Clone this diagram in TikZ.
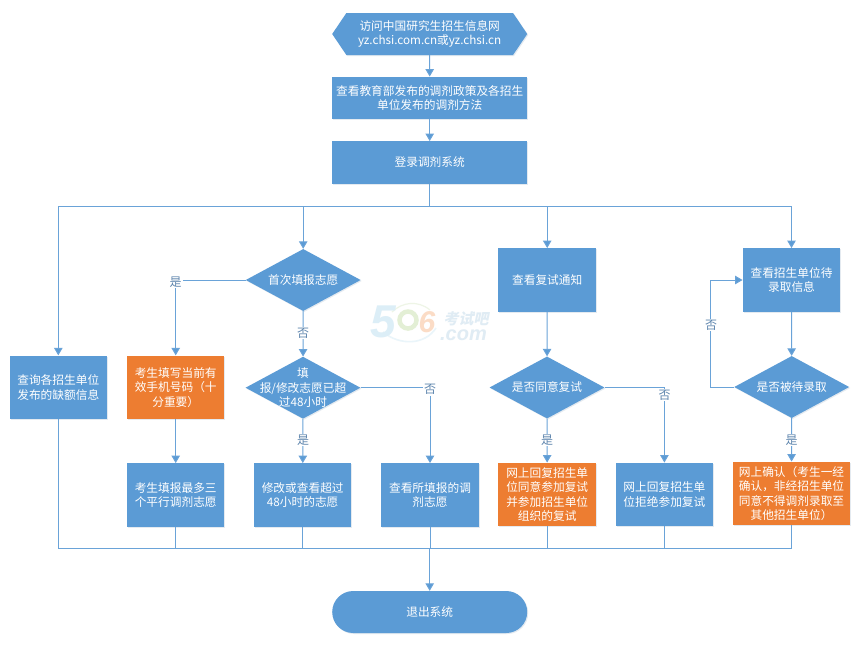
\documentclass[tikz,border=0pt]{standalone}
\usepackage{fontspec}
\setmainfont{Noto Sans CJK SC}
\newfontfamily\wmcjk[FakeSlant=0.2]{Noto Sans CJK SC}
\newfontfamily\wmlat{Liberation Sans}
\usetikzlibrary{arrows.meta,shapes.geometric,shapes.misc,shapes.symbols,shadows}
\definecolor{bl}{HTML}{5B9BD5}
\definecolor{og}{HTML}{ED7D31}
\definecolor{lnc}{HTML}{6AA3D8}
\definecolor{labc}{HTML}{5F86AE}
\definecolor{wmblue}{HTML}{DCEEF7}
\definecolor{wmgreen}{HTML}{E3EFD5}
\definecolor{wmorange}{HTML}{FBDCC6}
\definecolor{wmtext}{HTML}{E0ECF4}
\tikzset{
  softshadow/.style={drop shadow={shadow xshift=1pt,shadow yshift=-1pt,opacity=.14,fill=bl!70!black}},
  txt/.style={text=white,font=\fontsize{11.7}{14.5}\selectfont,align=center},
  boxb/.style={rectangle,fill=bl,softshadow,txt,inner sep=0pt},
  stdbox/.style={boxb,minimum width=97.5pt,minimum height=63.5pt},
  wide/.style={boxb,minimum width=195pt,minimum height=42.5pt},
  orangebox/.style={fill=og},
  dia/.style={diamond,fill=bl,softshadow,inner sep=0pt,aspect=1.85,minimum width=115pt,minimum height=62pt},
  dtxt/.style={txt,inner sep=0pt},
  hexa/.style={signal,signal to=west and east,signal pointer angle=112,fill=bl,softshadow,txt,inner sep=0pt,minimum width=195pt,minimum height=42pt},
  term/.style={rounded rectangle,fill=bl,softshadow,txt,inner sep=0pt,minimum width=195pt,minimum height=42pt},
  link/.style={draw=lnc,line width=1pt},
  arr/.style={link,-{Triangle[width=8.5pt,length=7.5pt,fill=bl]}},
  lab/.style={fill=white,text=labc,font=\fontsize{12}{14}\selectfont,inner ysep=1pt,inner xsep=1pt},
}
\begin{document}
\begin{tikzpicture}[x=1pt,y=-1pt]
\useasboundingbox[fill=white] (0,0) rectangle (864,646);

% watermark
\draw[line width=1.6pt,draw=wmblue!60!white] (383,332) .. controls (400,346) and (425,345) .. (436,328);
\draw[line width=1.2pt,draw=wmgreen!60!white] (392,312) .. controls (402,302) and (418,300) .. (430,310);
\node[inner sep=0pt,text=wmblue] (wm5) at (383,322) {\wmlat\fontsize{46}{46}\selectfont\bfseries\itshape 5};
\draw[line width=4.5pt,draw=wmgreen] (408,320) circle (8.5);
\node[inner sep=0pt,text=wmorange] (wm6) at (427,322) {\wmlat\fontsize{30}{30}\selectfont\bfseries\itshape 6};
\node[inner sep=0pt,text=wmtext,anchor=base] (wmc) at (466,324) {\wmcjk\fontsize{15}{15}\selectfont\bfseries 考试吧};
\node[inner sep=0pt,text=wmtext,anchor=base] (wmd) at (463.5,340) {\wmlat\fontsize{20}{20}\selectfont\bfseries\itshape .com};

% nodes
\node[hexa] (start) at (429.7,34) {访问中国研究生招生信息网\\yz.chsi.com.cn或yz.chsi.cn};
\node[wide] (policy) at (429.7,98) {查看教育部发布的调剂政策及各招生\\单位发布的调剂方法};
\node[wide] (login) at (429.7,162.5) {登录调剂系统};

\node[stdbox] (vac) at (58.3,387.3) {查询各招生单位\\发布的缺额信息};
\node[stdbox,orangebox] (phone) at (175.7,387.3) {考生填写当前有\\效手机号码（十\\分重要）};
\node[stdbox] (three) at (175.7,495) {考生填报最多三\\个平行调剂志愿};

\node[dia,label={[dtxt]center:首次填报志愿}] (first) at (303.2,280) {};
\node[dia,label={[dtxt]center:填\\报/修改志愿已超\\过48小时}] (over) at (303,387.7) {};
\node[stdbox] (edit) at (302.7,495) {修改或查看超过\\48小时的志愿};
\node[stdbox] (see) at (430,495) {查看所填报的调\\剂志愿};

\node[stdbox] (notice) at (547.2,280) {查看复试通知};
\node[dia,label={[dtxt]center:是否同意复试}] (agree) at (547,387.5) {};
\node[stdbox,orangebox,font=\fontsize{11.7}{14.3}\selectfont] (accept) at (547.2,494.5) {网上回复招生单\\位同意参加复试\\并参加招生单位\\组织的复试};
\node[stdbox] (reject) at (664.4,494.5) {网上回复招生单\\位拒绝参加复试};

\node[stdbox] (wait) at (791.5,280) {查看招生单位待\\录取信息};
\node[dia,label={[dtxt]center:是否被待录取}] (waited) at (791.7,387) {};
\node[stdbox,orangebox,minimum width=117pt,font=\fontsize{11.7}{14.3}\selectfont] (confirm) at (791.5,493.5) {网上确认（考生一经\\确认，非经招生单位\\同意不得调剂录取至\\其他招生单位）};

\node[term] (exit) at (429.7,612) {退出系统};

\coordinate (hub) at (429.7,206.7);
\coordinate (bus) at (429.7,548.8);
\coordinate (loop) at (710,333);

% connectors
\draw[arr] (start) -- (policy);
\draw[arr] (policy) -- (login);
\draw[link] (login) -- (hub);
\draw[arr] (hub) -| (vac.north);
\draw[arr] (hub) -| (first.north);
\draw[arr] (hub) -| (notice.north);
\draw[arr] (hub) -| (wait.north);

\draw[arr] (first.west) -| (phone.north);
\draw[arr] (phone) -- (three);
\draw[arr] (first) -- (over);
\draw[arr] (over) -- (edit);
\draw[arr] (over.east) -| (see.north);

\draw[arr] (notice) -- (agree);
\draw[arr] (agree) -- (accept);
\draw[arr] (agree.east) -| (reject.north);

\draw[arr] (wait) -- (waited);
\draw[arr] (waited) -- (confirm);
\draw[arr] (waited.west) -| (loop) |- (wait.west);

\foreach \n in {vac,three,edit,see,accept,reject,confirm}
  \draw[link] (\n.south) |- (bus);
\draw[arr] (bus) -- (exit.north);

% branch labels
\node[lab] (l1) at (175.7,282) {是};
\node[lab] (l2) at (303,333) {否};
\node[lab] (l3) at (303,440) {是};
\node[lab] (l4) at (430,389.5) {否};
\node[lab] (l5) at (547,440) {是};
\node[lab] (l6) at (664.5,395) {否};
\node[lab] (l7) at (791.5,440) {是};
\node[lab] (l8) at (711,325) {否};
\end{tikzpicture}
\end{document}
